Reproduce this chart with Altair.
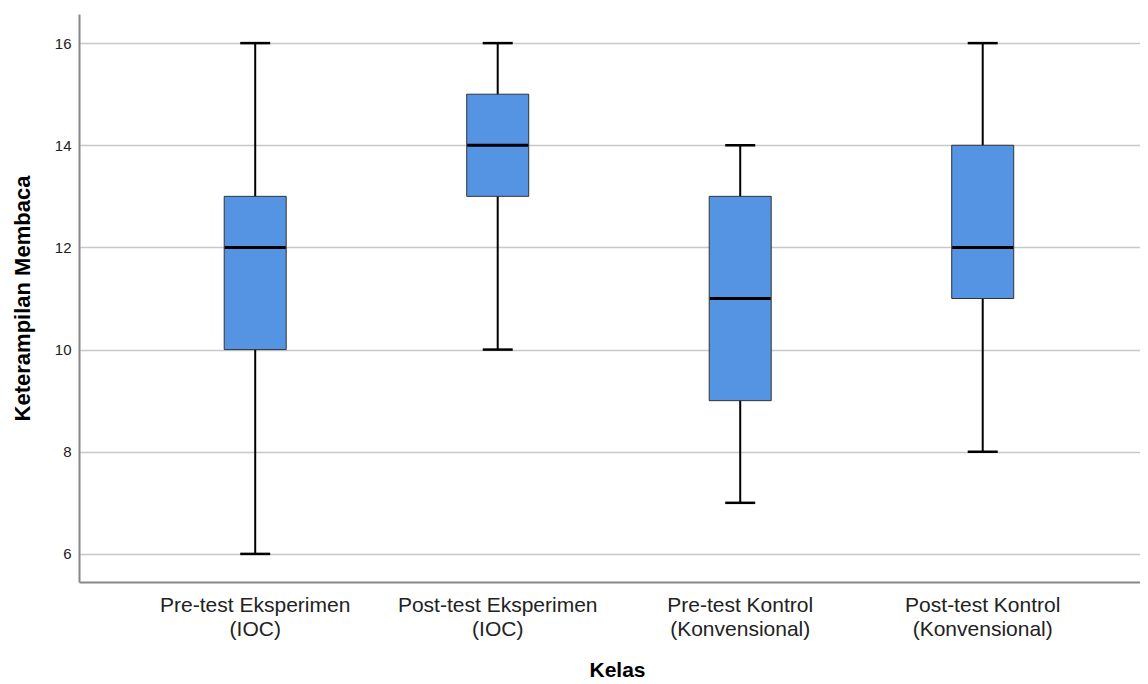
import altair as alt
import pandas as pd

groups = ["Pre-test Eksperimen\n(IOC)", "Post-test Eksperimen\n(IOC)",
          "Pre-test Kontrol\n(Konvensional)", "Post-test Kontrol\n(Konvensional)"]
mins = [6, 10, 7, 8]
q1s = [10, 13, 9, 11]
medians = [12, 14, 11, 12]
q3s = [13, 15, 13, 14]
maxs = [16, 16, 14, 16]
y_ticks = [6, 8, 10, 12, 14, 16]

df = pd.DataFrame({"Kelas": groups, "min": mins, "q1": q1s, "median": medians,
                   "q3": q3s, "max": maxs})

FONT = "Liberation Sans"

x_enc = alt.X("Kelas:N", sort=groups, title="Kelas",
              scale=alt.Scale(paddingInner=0, paddingOuter=0.1876, align=0.604),
              axis=alt.Axis(labelAngle=0, ticks=False, domain=True,
                            labelExpr="split(datum.label, '\\n')", labelLimit=0,
                            labelFontSize=21, labelLineHeight=24, labelPadding=12,
                            labelColor="#222222", labelFont=FONT,
                            titleFont=FONT, titleFontSize=21, titleFontWeight="bold",
                            titleColor="#000000", titlePadding=20, titleX=538,
                            grid=False, domainColor="#888888", domainWidth=2))

y_scale = alt.Scale(domain=[5.45, 16.57], nice=False, zero=False)
y_axis = alt.Axis(values=y_ticks, ticks=False, grid=True, gridColor="#c8c8c8",
                  gridWidth=1.5, labelFontSize=15, labelFont=FONT, labelColor="#222222",
                  labelPadding=8, title="Keterampilan Membaca", titleFont=FONT,
                  titleFontSize=22, titleFontWeight="bold", titleColor="#000000",
                  titlePadding=20, domainColor="#888888", domainWidth=2)

base = alt.Chart(df)

whisker = base.mark_rule(color="#000000", strokeWidth=2).encode(
    x=x_enc,
    y=alt.Y("min:Q", scale=y_scale, axis=y_axis),
    y2="max:Q",
)
box = base.mark_bar(size=62, color="#5594e3", stroke="#333333", strokeWidth=1).encode(
    x=alt.X("Kelas:N", sort=groups),
    y=alt.Y("q1:Q"),
    y2="q3:Q",
)
med = base.mark_tick(size=61, thickness=3, color="#000000", opacity=1).encode(
    x=alt.X("Kelas:N", sort=groups),
    y=alt.Y("median:Q"),
)
cap_lo = base.mark_tick(size=30, thickness=2.5, color="#000000", opacity=1).encode(
    x=alt.X("Kelas:N", sort=groups),
    y=alt.Y("min:Q"),
)
cap_hi = base.mark_tick(size=30, thickness=2.5, color="#000000", opacity=1).encode(
    x=alt.X("Kelas:N", sort=groups),
    y=alt.Y("max:Q"),
)

chart = alt.layer(whisker, box, med, cap_lo, cap_hi).properties(
    width=1061, height=568, background="#ffffff",
    padding={"left": 3, "top": 6, "right": 0, "bottom": 0},
).configure_view(stroke=None)

chart.save("out.html", embed_options={"renderer": "svg", "actions": False})
